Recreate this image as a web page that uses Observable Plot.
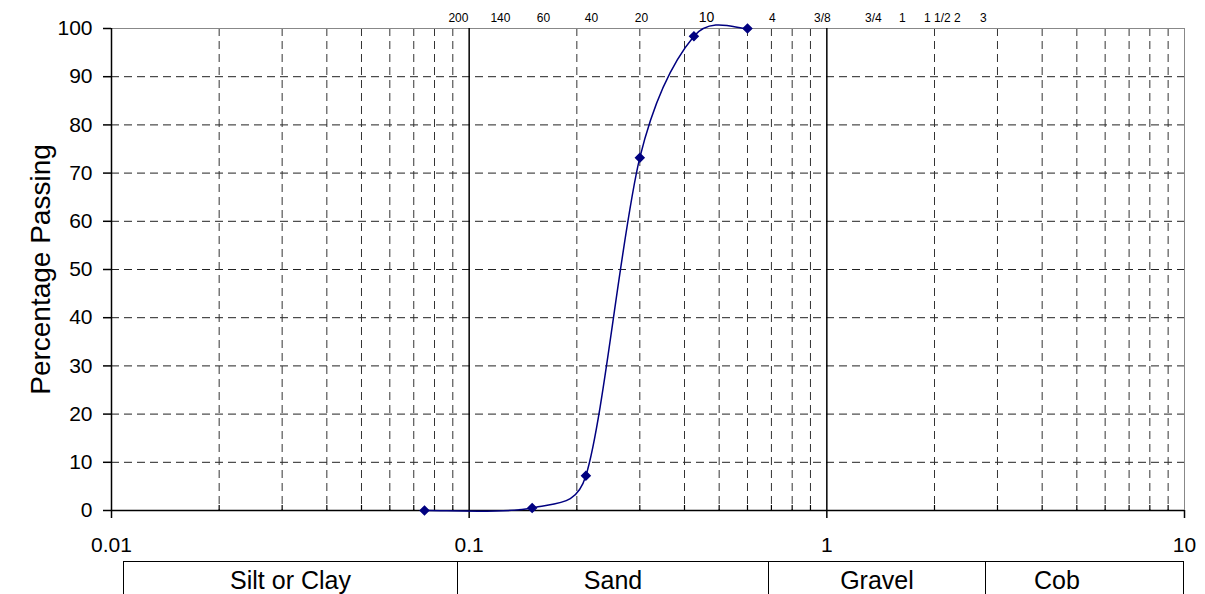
<!DOCTYPE html>
<html>
<head>
<meta charset="utf-8">
<script src="https://cdn.jsdelivr.net/npm/d3@7"></script>
<script src="https://cdn.jsdelivr.net/npm/@observablehq/plot@0.6"></script>
<style>
  html, body { margin: 0; padding: 0; background: #fff; overflow: hidden; }
  #wrap { position: relative; width: 1205px; height: 594px; overflow: hidden; font-family: "Liberation Sans", Arial, sans-serif; }
  #chart svg { display: block; }
  #classes { position: absolute; left: 123px; top: 561px; display: flex; height: 60px; border-top: 1.5px solid #000; }
  #classes div { box-sizing: border-box; border-left: 1.5px solid #000; font-size: 25px; line-height: 25px; padding-top: 6px; text-align: center; color: #000; }
  #classes div:last-child { border-right: 1.5px solid #000; text-align: left; padding-left: 48px; }
</style>
</head>
<body>
<div id="wrap">
  <div id="chart"></div>
  <div id="classes"></div>
</div>
<script>
// Grain size (mm) and percentage passing
const sieveSizes = [0.075, 0.15, 0.212, 0.3, 0.425, 0.6];
const percentPassing = [0, 0.5, 7.2, 73.2, 98.4, 100];

// Sieve designation labels along the top and where they sit (mm)
const sieveLabels = ["200", "140", "60", "40", "20", "10", "4", "3/8", "3/4", "1", "1 1/2", "2", "3"];
const sieveLabelAt = [0.0933, 0.1223, 0.1613, 0.2197, 0.3032, 0.4606, 0.7046, 0.972, 1.35, 1.627, 2.038, 2.318, 2.74];

// Axis ticks
const xTicks = [0.01, 0.1, 1, 10];
const xMajorLines = [0.1, 1];
const xMinor = [0.02, 0.03, 0.04, 0.05, 0.06, 0.07, 0.08, 0.09,
                0.2, 0.3, 0.4, 0.5, 0.6, 0.7, 0.8, 0.9,
                2, 3, 4, 5, 6, 7, 8, 9];
const yTicks = [0, 10, 20, 30, 40, 50, 60, 70, 80, 90, 100];
const yGrid = [10, 20, 30, 40, 50, 60, 70, 80, 90];

// Soil classes shown under the axis
const soilClasses = ["Silt or Clay", "Sand", "Gravel", "Cob"];
const classWidths = [334, 311, 217, 199];

const data = sieveSizes.map((s, i) => ({size: s, pass: percentPassing[i]}));
const topLabels = sieveLabels.map((t, i) => ({t, x: sieveLabelAt[i], big: t === "10"}));

// Spreadsheet-style smoothed line: cubic Bezier with 1/6 tangents, arms limited to half the segment
function smoothCurve(context) {
  let pts;
  return {
    areaStart() {}, areaEnd() {},
    lineStart() { pts = []; },
    point(x, y) { pts.push([+x, +y]); },
    lineEnd() {
      const n = pts.length;
      if (!n) return;
      context.moveTo(pts[0][0], pts[0][1]);
      for (let i = 0; i < n - 1; i++) {
        const p0 = pts[Math.max(0, i - 1)], p1 = pts[i], p2 = pts[i + 1], p3 = pts[Math.min(n - 1, i + 2)];
        const d12 = Math.hypot(p2[0] - p1[0], p2[1] - p1[1]);
        const arm = (a, b) => {
          let vx = (b[0] - a[0]) / 6, vy = (b[1] - a[1]) / 6;
          const L = Math.hypot(vx, vy), m = 0.5 * d12;
          if (L > m) { vx *= m / L; vy *= m / L; }
          return [vx, vy];
        };
        const a1 = arm(p0, p2), a2 = arm(p1, p3);
        context.bezierCurveTo(p1[0] + a1[0], p1[1] + a1[1], p2[0] - a2[0], p2[1] - a2[1], p2[0], p2[1]);
      }
    }
  };
}

const W = 1205, H = 561, mT = 28, mB = 51, mL = 111, mR = 21;
const frameH = H - mT - mB;

const chart = Plot.plot({
  width: W,
  height: H,
  marginTop: mT,
  marginBottom: mB,
  marginLeft: mL,
  marginRight: mR,
  style: {fontFamily: "'Liberation Sans', Arial, sans-serif", color: "#000", background: "#fff"},
  x: {type: "log", domain: [0.01, 10]},
  y: {domain: [0, 100]},
  marks: [
    Plot.ruleY(yGrid, {stroke: "#222", strokeWidth: 1, strokeDasharray: "8,5"}),
    Plot.ruleX(xMinor, {stroke: "#333", strokeWidth: 1, strokeDasharray: "8,5"}),
    Plot.frame({stroke: "#888", strokeWidth: 1}),
    Plot.ruleX(xMajorLines, {stroke: "#000", strokeWidth: 1.5}),
    Plot.ruleX(xMinor, {stroke: "#000", strokeWidth: 1.2, insetTop: frameH - 5}),
    Plot.ruleX([0.01], {stroke: "#000", strokeWidth: 1.5}),
    Plot.ruleY([0], {stroke: "#000", strokeWidth: 1.5}),
    Plot.axisX(xTicks, {tickSize: 8, tickPadding: 19, fontSize: 21, strokeWidth: 1.5, tickFormat: d => String(d), label: null}),
    Plot.axisY(yTicks, {tickSize: 8, tickPadding: 11, fontSize: 21, strokeWidth: 1.5, label: null}),
    Plot.text(["Percentage Passing"], {frameAnchor: "left", textAnchor: "middle", dx: -70, rotate: -90, fontSize: 28, fill: "#000"}),
    Plot.text(topLabels.filter(d => !d.big), {x: "x", text: "t", frameAnchor: "top", lineAnchor: "middle", dy: -10, fontSize: 12, fill: "#000"}),
    Plot.text(topLabels.filter(d => d.big), {x: "x", text: "t", frameAnchor: "top", lineAnchor: "middle", dy: -11, fontSize: 14, fill: "#000"}),
    Plot.line(data, {x: "size", y: "pass", curve: smoothCurve, stroke: "#000080", strokeWidth: 1.5}),
    Plot.dot(data, {x: "size", y: "pass", symbol: "diamond2", r: 3.8, fill: "#000080", stroke: "#000080"})
  ]
});
document.getElementById("chart").appendChild(chart);

const row = document.getElementById("classes");
soilClasses.forEach((c, i) => {
  const d = document.createElement("div");
  d.style.width = classWidths[i] + "px";
  d.textContent = c;
  row.appendChild(d);
});
</script>
</body>
</html>
